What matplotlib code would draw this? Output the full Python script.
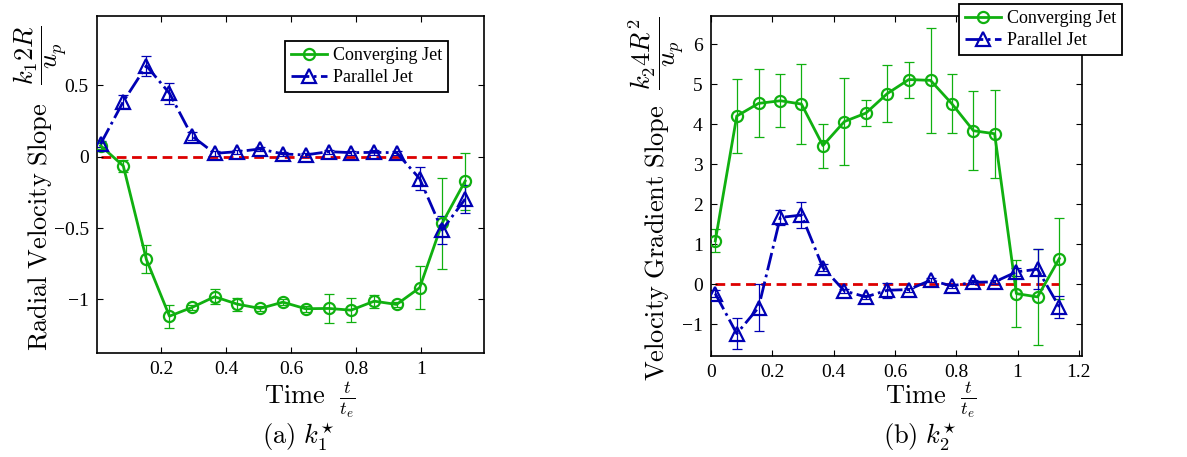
import numpy as np
import matplotlib
matplotlib.use('Agg')
import matplotlib.pyplot as plt
from matplotlib.ticker import FuncFormatter

plt.rcParams['font.family'] = 'Liberation Serif'
plt.rcParams['mathtext.fontset'] = 'cm'

# time samples (t / t_e)
t = [0.014, 0.084, 0.155, 0.226, 0.295, 0.365, 0.435, 0.505, 0.575,
     0.645, 0.716, 0.785, 0.856, 0.925, 0.996, 1.065, 1.136]

# k1* - radial velocity slope
k1_conv = [0.077, -0.065, -0.72, -1.117, -1.056, -0.981, -1.033, -1.063, -1.019,
           -1.065, -1.063, -1.075, -1.012, -1.035, -0.918, -0.467, -0.171]
k1_conv_err = [0.02, 0.04, 0.098, 0.08, 0.02, 0.054, 0.045, 0.02, 0.02,
               0.02, 0.103, 0.082, 0.045, 0.02, 0.152, 0.32, 0.2]
k1_par = [0.089, 0.386, 0.636, 0.444, 0.145, 0.023, 0.035, 0.054, 0.019,
          0.012, 0.035, 0.028, 0.03, 0.028, -0.154, -0.514, -0.297]
k1_par_err = [0.02, 0.043, 0.068, 0.074, 0.03, 0.015, 0.015, 0.015, 0.015,
              0.015, 0.015, 0.015, 0.015, 0.015, 0.083, 0.098, 0.096]

# k2* - velocity gradient slope
k2_conv = [1.085, 4.207, 4.524, 4.59, 4.507, 3.47, 4.07, 4.28, 4.77,
           5.12, 5.10, 4.52, 3.84, 3.765, -0.234, -0.317, 0.643]
k2_conv_err = [0.29, 0.935, 0.85, 0.66, 1.0, 0.55, 1.085, 0.33, 0.71,
               0.45, 1.32, 0.73, 0.985, 1.1, 0.835, 1.2, 1.01]
k2_par = [-0.234, -1.235, -0.584, 1.67, 1.73, 0.417, -0.167, -0.317, -0.15,
          -0.134, 0.1, -0.042, 0.05, 0.058, 0.309, 0.376, -0.568]
k2_par_err = [0.08, 0.38, 0.59, 0.18, 0.32, 0.08, 0.05, 0.05, 0.19,
              0.05, 0.05, 0.05, 0.05, 0.05, 0.1, 0.5, 0.27]

green = '#10b010'
blue = '#0000b4'
red = '#dd0000'

W, H = 1187, 457
fig = plt.figure(figsize=(W / 100, H / 100), dpi=100)


def fmt(v, pos):
    s = f'{v:g}'
    return s.replace('-', '\u2212')


def px_text(x, y, s, **kw):
    # place text by pixel position from the top-left corner
    fig.text(x / W, 1 - y / H, s, ha='center', va='center', **kw)


def panel(rect, conv, conv_err, par, par_err, xlim, ylim, xticks, yticks,
          ylab, ylab_xy, frac, frac_xy, leg_xy, caption, cap_x, xl_x):
    l, t_, r, b = rect
    ax = fig.add_axes([l / W, 1 - b / H, (r - l) / W, (b - t_) / H])
    ax.plot([t[0], t[-1]], [0, 0], '--', color=red, lw=2, dashes=(3.5, 2), zorder=1)
    ax.errorbar(t, conv, yerr=conv_err, fmt='none', ecolor=green, elinewidth=0.9,
                capsize=3.5, capthick=0.9, zorder=2)
    ax.errorbar(t, par, yerr=par_err, fmt='none', ecolor=blue, elinewidth=0.9,
                capsize=3.5, capthick=0.9, zorder=2)
    h1, = ax.plot(t, conv, '-', color=green, lw=2, marker='o', ms=8,
                  mfc='none', mec=green, mew=1.6, zorder=3, label='Converging Jet')
    h2, = ax.plot(t, par, '-.', color=blue, lw=2, marker='^', ms=9.5,
                  mfc='none', mec=blue, mew=1.6, zorder=3, label='Parallel Jet')
    ax.set_xlim(*xlim)
    ax.set_ylim(*ylim)
    ax.set_xticks(xticks)
    ax.set_yticks(yticks)
    ax.xaxis.set_major_formatter(FuncFormatter(fmt))
    ax.yaxis.set_major_formatter(FuncFormatter(fmt))
    ax.tick_params(direction='in', top=True, right=True, length=4, width=0.8,
                   labelsize=14, pad=6)
    for sp in ax.spines.values():
        sp.set_linewidth(1.2)
    leg = ax.legend(handles=[h1, h2], loc='upper left',
                    bbox_to_anchor=(leg_xy[0] / W, 1 - leg_xy[1] / H),
                    bbox_transform=fig.transFigure, borderaxespad=0,
                    fancybox=False, framealpha=1, edgecolor='black',
                    fontsize=13, handlelength=2.0, handletextpad=0.3,
                    borderpad=0.35, labelspacing=0.25)
    leg.get_frame().set_linewidth(1.3)
    px_text(*ylab_xy, ylab, fontsize=19, rotation=90)
    px_text(*frac_xy, frac, fontsize=19, rotation=90)
    px_text(xl_x, 400, r'$\mathrm{Time}\ \ \frac{t}{t_e}$', fontsize=19)
    px_text(cap_x, 437, caption, fontsize=19)
    return ax


ax1 = panel((97, 16, 484, 353), k1_conv, k1_conv_err, k1_par, k1_par_err,
            (0.003, 1.194), (-1.375, 0.985), [0.2, 0.4, 0.6, 0.8, 1],
            [-1, -0.5, 0, 0.5],
            r'$\mathrm{Radial\ Velocity\ Slope}$', (40, 227),
            r'$\dfrac{k_1 2R}{u_p}$', (40, 55),
            (285, 41), r'$(\mathrm{a})\ k_1^{\star}$', 298, 310)

ax2 = panel((711, 16, 1082, 356), k2_conv, k2_conv_err, k2_par, k2_par_err,
            (0, 1.21), (-1.795, 6.71), [0, 0.2, 0.4, 0.6, 0.8, 1, 1.2],
            list(range(-1, 7)),
            r'$\mathrm{Velocity\ Gradient\ Slope}$', (657, 243),
            r'$\dfrac{k_2 4R^2}{u_p}$', (657, 53),
            (959, 4), r'$(\mathrm{b})\ k_2^{\star}$', 920, 931)

fig.savefig('out.png', dpi=100)
